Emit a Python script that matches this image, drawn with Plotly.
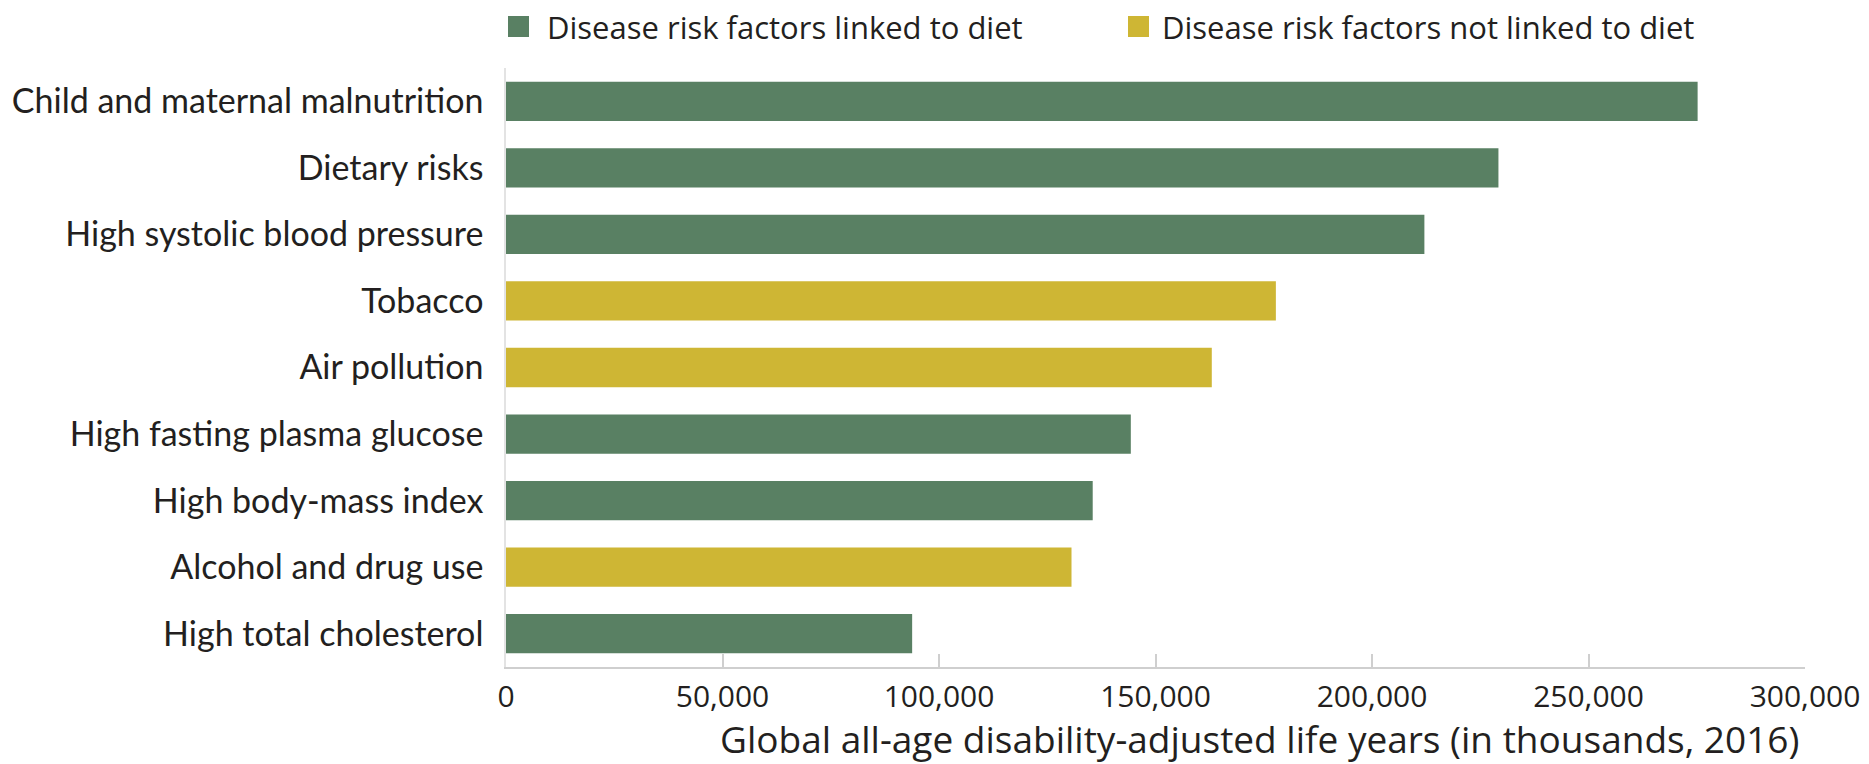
import plotly.graph_objects as go

categories = [
    "Child and maternal malnutrition",
    "Dietary risks",
    "High systolic blood pressure",
    "Tobacco",
    "Air pollution",
    "High fasting plasma glucose",
    "High body-mass index",
    "Alcohol and drug use",
    "High total cholesterol",
]
values = [275200, 229200, 212100, 177800, 163000, 144300, 135500, 130600, 93800]
diet_linked = [True, True, True, False, False, True, True, False, True]

group_names = ["Disease risk factors linked to diet", "Disease risk factors not linked to diet"]
x_title = "Global all-age disability-adjusted life years (in thousands, 2016)"
GREEN = "#598063"
YELLOW = "#CEB634"

W, H = 1869, 764
ML, MR, MT, MB = 506, 64, 68, 97
PW, PH = W - ML - MR, H - MT - MB

fig = go.Figure()
for flag, name, color in [(True, group_names[0], GREEN), (False, group_names[1], YELLOW)]:
    ys = [c for c, l in zip(categories, diet_linked) if l == flag]
    xs = [v for v, l in zip(values, diet_linked) if l == flag]
    fig.add_trace(go.Bar(
        x=xs, y=ys, orientation="h", name=name,
        marker=dict(color=color, line=dict(width=0)),
        width=0.59, showlegend=False,
    ))

# Manual legend (squares + text)
def px_x(px):
    return (px - ML) / PW

def px_y(py):
    return (H - MB - py) / PH

legend_items = [(group_names[0], GREEN, 508, 545), (group_names[1], YELLOW, 1128, 1160)]
shapes = []
annotations = []
for name, color, sx, tx in legend_items:
    shapes.append(dict(type="rect", xref="paper", yref="paper",
                       x0=px_x(sx), x1=px_x(sx + 21), y0=px_y(37), y1=px_y(16),
                       fillcolor=color, line=dict(width=0)))
    annotations.append(dict(text=name, xref="paper", yref="paper",
                            x=px_x(tx), y=px_y(27), xanchor="left", yanchor="middle",
                            showarrow=False,
                            font=dict(family="Open Sans", size=31, color="#231f20")))

# x-axis title (offset to the right as in the original)
annotations.append(dict(text=x_title, xref="paper", yref="paper",
                        x=px_x(1259), y=px_y(738), xanchor="center", yanchor="middle",
                        showarrow=False,
                        font=dict(family="Open Sans", size=37, color="#231f20")))

fig.update_layout(
    width=W, height=H,
    margin=dict(l=ML, r=MR, t=MT, b=MB, pad=0, autoexpand=False),
    paper_bgcolor="white", plot_bgcolor="white",
    barmode="overlay",
    shapes=shapes, annotations=annotations,
    xaxis=dict(
        range=[0, 300000], dtick=50000, tick0=0, tickformat=",",
        showgrid=False, zeroline=False, automargin=False,
        showline=True, linecolor="#cfcfcf", linewidth=1.5,
        ticks="inside", ticklen=13, tickcolor="#cfcfcf", tickwidth=1.5,
        tickfont=dict(family="Open Sans", size=30, color="#231f20"),
        ticklabelstandoff=2,
    ),
    yaxis=dict(
        categoryorder="array", categoryarray=categories,
        range=[len(categories) - 0.5, -0.5],
        showgrid=False, zeroline=False, automargin=False,
        showline=True, linecolor="#e3e3e3", linewidth=1.5,
        ticks="", ticklabelstandoff=14,
        tickfont=dict(family="Lato", size=34, color="#231f20"),
    ),
)

fig.write_html("out.html")
